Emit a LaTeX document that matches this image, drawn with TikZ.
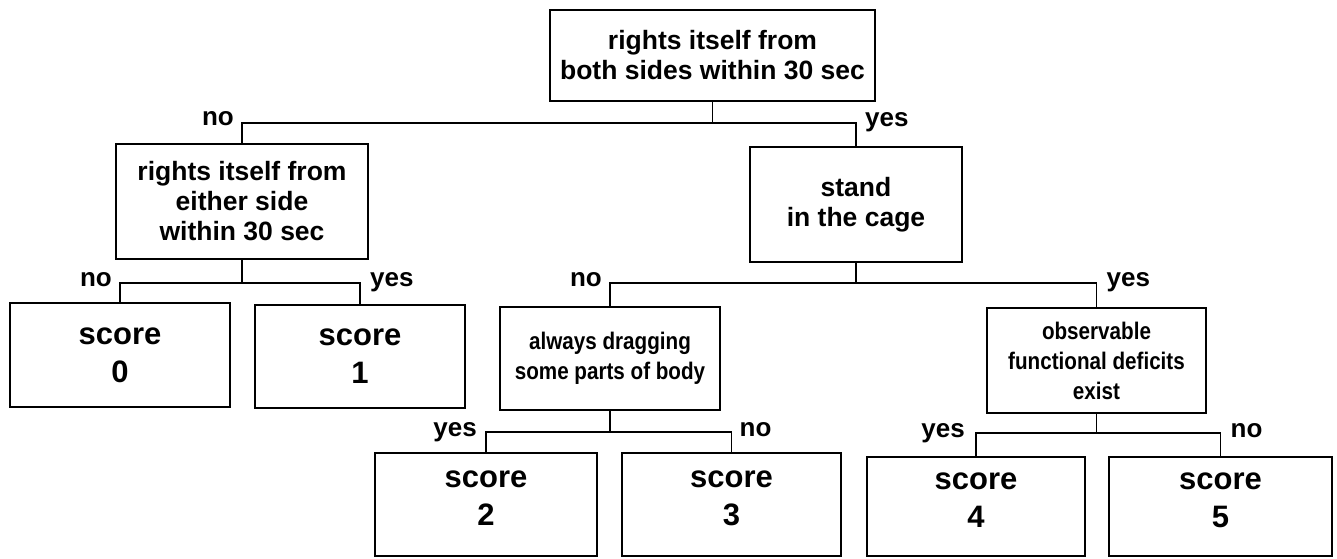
\documentclass[tikz,border=0pt]{standalone}
\usepackage{fontspec}
\setmainfont{Liberation Sans}
\newfontfamily\narrowfont{Liberation Sans}[FakeStretch=0.86]
\newcommand{\lowpad}{\rule[-13pt]{0pt}{13pt}}
\begin{document}
\begin{tikzpicture}[x=1pt,y=-1pt,
  box/.style={draw=black, line width=1.7pt, inner sep=0pt, align=center, text=black},
  qtext/.style={font=\fontsize{26.5}{30}\selectfont\bfseries},
  ntext/.style={font=\narrowfont\fontsize{24}{30}\selectfont\bfseries},
  stext/.style={font=\fontsize{31}{38}\selectfont\bfseries},
  conn/.style={draw=black, line width=1.7pt},
  lab/.style={font=\fontsize{26}{30}\selectfont\bfseries, inner sep=0pt, text=black}]
\useasboundingbox (0,0) rectangle (1337,558);
% boxes
\node[box,qtext,minimum width=325pt,minimum height=91pt] (root) at (712.5,55.5) {rights itself from\\both sides within 30 sec};
\node[box,qtext,minimum width=252pt,minimum height=115pt] (either) at (242,201.5) {rights itself from\\either side\\within 30 sec};
\node[box,qtext,minimum width=212pt,minimum height=115pt] (stand) at (856,204.5) {stand\\in the cage};
\node[box,stext,minimum width=220pt,minimum height=104pt] (s0) at (120,355) {score\\0};
\node[box,stext,minimum width=210pt,minimum height=103pt] (s1) at (360,356.5) {score\\1};
\node[box,ntext,minimum width=220pt,minimum height=103pt] (drag) at (610,358.5) {always dragging\\some parts of body};
\node[box,ntext,minimum width=219pt,minimum height=105pt] (obs) at (1096.5,360.5) {observable\\functional deficits\\exist};
\node[box,stext,minimum width=222pt,minimum height=103pt] (s2) at (486,504.5) {score\\2\lowpad};
\node[box,stext,minimum width=219pt,minimum height=103pt] (s3) at (731.5,504.5) {score\\3\lowpad};
\node[box,stext,minimum width=218pt,minimum height=99pt] (s4) at (976,506.5) {score\\4\lowpad};
\node[box,stext,minimum width=223pt,minimum height=99pt] (s5) at (1220.5,506.5) {score\\5\lowpad};
% bar levels
\coordinate (lv1) at (0,123);
\coordinate (lv2) at (0,283);
\coordinate (lv3) at (0,432);
\coordinate (lv4) at (0,433);
\coordinate (b1) at (root.south |- lv1);
\coordinate (b2) at (either.south |- lv2);
\coordinate (b3) at (stand.south |- lv2);
\coordinate (b4) at (drag.south |- lv3);
\coordinate (b5) at (obs.south |- lv4);
% connectors
\draw[conn] (root.south) -- (b1);
\draw[conn] (either.north) |- (b1) -| (stand.north);
\draw[conn] (either.south) -- (b2);
\draw[conn] (s0.north) |- (b2) -| (s1.north);
\draw[conn] (stand.south) -- (b3);
\draw[conn] (drag.north) |- (b3) -| (obs.north);
\draw[conn] (drag.south) -- (b4);
\draw[conn] (s2.north) |- (b4) -| (s3.north);
\draw[conn] (obs.south) -- (b5);
\draw[conn] (s4.north) |- (b5) -| (s5.north);
% labels
\node[lab,anchor=base east] (l1) at ([xshift=-8pt,yshift=-2pt]either.north |- lv1) {no};
\node[lab,anchor=base west] (l2) at ([xshift=9pt,yshift=-3pt]stand.north |- lv1) {yes};
\node[lab,anchor=base east] (l3) at ([xshift=-8pt,yshift=-3pt]s0.north |- lv2) {no};
\node[lab,anchor=base west] (l4) at ([xshift=10pt,yshift=-3pt]s1.north |- lv2) {yes};
\node[lab,anchor=base east] (l5) at ([xshift=-8pt,yshift=-3pt]drag.north |- lv2) {no};
\node[lab,anchor=base west] (l6) at ([xshift=10pt,yshift=-3pt]obs.north |- lv2) {yes};
\node[lab,anchor=base east] (l7) at ([xshift=-9pt,yshift=-4pt]s2.north |- lv3) {yes};
\node[lab,anchor=base west] (l8) at ([xshift=8pt,yshift=-4pt]s3.north |- lv3) {no};
\node[lab,anchor=base east] (l9) at ([xshift=-11pt,yshift=-4pt]s4.north |- lv4) {yes};
\node[lab,anchor=base west] (l10) at ([xshift=10pt,yshift=-4pt]s5.north |- lv4) {no};
\end{tikzpicture}
\end{document}
